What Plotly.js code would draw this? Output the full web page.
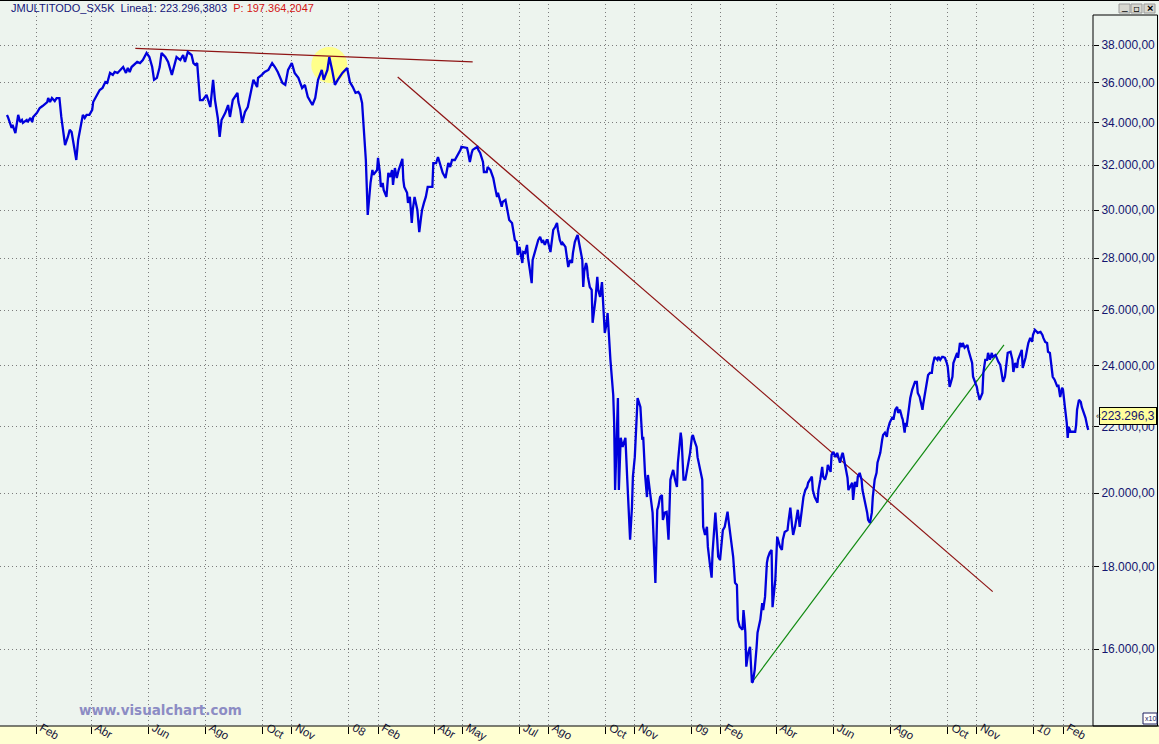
<!DOCTYPE html>
<html><head><meta charset="utf-8">
<script src="https://cdn.plot.ly/plotly-3.0.1.min.js"></script>
<style>html,body{margin:0;padding:0;background:#EDF4EE;overflow:hidden}#chart{width:1159px;height:744px}</style>
</head><body><div id="chart"></div>
<script>
const sessionDates = [
'2007-01-01','2007-01-02','2007-01-06','2007-01-07','2007-01-10','2007-01-12','2007-01-13','2007-01-15','2007-01-17','2007-01-18','2007-01-22','2007-01-23','2007-01-26','2007-01-28','2007-01-29',
'2007-02-02','2007-02-05','2007-02-08','2007-02-13','2007-02-14','2007-02-16','2007-02-18','2007-02-21','2007-02-23','2007-02-26','2007-02-28',
'2007-03-02','2007-03-04','2007-03-07','2007-03-09','2007-03-11','2007-03-14','2007-03-16','2007-03-18','2007-03-20','2007-03-23','2007-03-25','2007-03-27','2007-03-30',
'2007-04-02','2007-04-03','2007-04-07','2007-04-10','2007-04-13','2007-04-16','2007-04-18','2007-04-21','2007-04-24','2007-04-26','2007-04-29',
'2007-05-02','2007-05-05','2007-05-08','2007-05-10','2007-05-12','2007-05-14','2007-05-20','2007-05-23','2007-05-26','2007-05-30',
'2007-06-02','2007-06-05','2007-06-07','2007-06-10','2007-06-13','2007-06-15','2007-06-19','2007-06-22','2007-06-26','2007-06-29',
'2007-07-01','2007-07-05','2007-07-08','2007-07-10','2007-07-13','2007-07-17','2007-07-19','2007-07-21','2007-07-23','2007-07-26','2007-07-29',
'2007-08-02','2007-08-06','2007-08-09','2007-08-11','2007-08-14','2007-08-16','2007-08-18','2007-08-22','2007-08-25','2007-08-27','2007-08-30',
'2007-09-04','2007-09-05','2007-09-07','2007-09-09','2007-09-12','2007-09-15','2007-09-19','2007-09-21','2007-09-25','2007-09-26','2007-09-30',
'2007-10-03','2007-10-07','2007-10-11','2007-10-14','2007-10-17','2007-10-22','2007-10-25','2007-10-28',
'2007-11-01','2007-11-04','2007-11-08','2007-11-12','2007-11-15','2007-11-18','2007-11-23','2007-11-26','2007-11-29',
'2007-12-03','2007-12-05','2007-12-09','2007-12-11','2007-12-14','2007-12-17','2007-12-20','2007-12-25','2007-12-30',
'2008-01-02','2008-01-05','2008-01-08','2008-01-11','2008-01-13','2008-01-15','2008-01-16','2008-01-18','2008-01-19','2008-01-20','2008-01-21','2008-01-24','2008-01-26','2008-01-27','2008-01-29','2008-01-31',
'2008-02-01','2008-02-03','2008-02-04','2008-02-06','2008-02-07','2008-02-10','2008-02-12','2008-02-14','2008-02-16','2008-02-17','2008-02-19','2008-02-21','2008-02-23','2008-02-27','2008-02-28','2008-02-29',
'2008-03-03','2008-03-04','2008-03-06','2008-03-08','2008-03-09','2008-03-11','2008-03-14','2008-03-15','2008-03-16','2008-03-18','2008-03-19','2008-03-21','2008-03-23','2008-03-25','2008-03-30','2008-03-31',
'2008-04-03','2008-04-05','2008-04-07','2008-04-10','2008-04-13','2008-04-15','2008-04-16','2008-04-18','2008-04-20','2008-04-23','2008-04-25','2008-04-29','2008-04-30',
'2008-05-04','2008-05-06','2008-05-07','2008-05-09','2008-05-11','2008-05-12','2008-05-15','2008-05-17','2008-05-18','2008-05-20','2008-05-23','2008-05-24','2008-05-27','2008-05-28','2008-05-31',
'2008-06-03','2008-06-05','2008-06-07','2008-06-08','2008-06-10','2008-06-12','2008-06-13','2008-06-16','2008-06-18','2008-06-20','2008-06-23','2008-06-24','2008-06-26','2008-06-28','2008-06-29',
'2008-07-01','2008-07-04','2008-07-05','2008-07-07','2008-07-09','2008-07-10','2008-07-12','2008-07-14','2008-07-15','2008-07-17','2008-07-20','2008-07-21','2008-07-23','2008-07-25','2008-07-26','2008-07-28','2008-07-30','2008-07-31',
'2008-08-03','2008-08-05','2008-08-06','2008-08-08','2008-08-10','2008-08-11','2008-08-13','2008-08-15','2008-08-16','2008-08-19','2008-08-21','2008-08-22','2008-08-24','2008-08-26','2008-08-27','2008-08-29','2008-08-31',
'2008-09-01','2008-09-04','2008-09-06','2008-09-07','2008-09-08','2008-09-10','2008-09-11','2008-09-12','2008-09-14','2008-09-16','2008-09-17','2008-09-20','2008-09-22','2008-09-23','2008-09-25','2008-09-27','2008-09-28','2008-09-30',
'2008-10-02','2008-10-03','2008-10-06','2008-10-08','2008-10-09','2008-10-10','2008-10-11','2008-10-13','2008-10-14','2008-10-15','2008-10-17','2008-10-19','2008-10-22','2008-10-24','2008-10-25','2008-10-27','2008-10-29','2008-10-30',
'2008-11-01','2008-11-03','2008-11-04','2008-11-07','2008-11-09','2008-11-10','2008-11-12','2008-11-14','2008-11-15','2008-11-17','2008-11-19','2008-11-20','2008-11-23','2008-11-25','2008-11-26','2008-11-28','2008-11-30',
'2008-12-01','2008-12-03','2008-12-05','2008-12-07','2008-12-09','2008-12-11','2008-12-12','2008-12-14','2008-12-16','2008-12-17','2008-12-20','2008-12-21','2008-12-23','2008-12-25','2008-12-27','2008-12-28','2008-12-30',
'2009-01-01','2009-01-02','2009-01-04','2009-01-06','2009-01-07','2009-01-10','2009-01-12','2009-01-13','2009-01-15','2009-01-17','2009-01-18','2009-01-20','2009-01-22','2009-01-23','2009-01-26','2009-01-28','2009-01-29','2009-01-31',
'2009-02-02','2009-02-03','2009-02-05','2009-02-08','2009-02-09','2009-02-11','2009-02-13','2009-02-14','2009-02-16','2009-02-18','2009-02-19','2009-02-21','2009-02-24','2009-02-25','2009-02-26','2009-02-27','2009-02-28',
'2009-03-02','2009-03-04','2009-03-06','2009-03-07','2009-03-09','2009-03-11','2009-03-12','2009-03-15','2009-03-17','2009-03-18','2009-03-20','2009-03-22','2009-03-23','2009-03-25','2009-03-27','2009-03-28','2009-03-31',
'2009-04-02','2009-04-03','2009-04-05','2009-04-07','2009-04-08','2009-04-10','2009-04-13','2009-04-14','2009-04-16','2009-04-18','2009-04-19','2009-04-21','2009-04-23','2009-04-24','2009-04-26','2009-04-29','2009-04-30',
'2009-05-02','2009-05-04','2009-05-05','2009-05-07','2009-05-09','2009-05-10','2009-05-12','2009-05-15','2009-05-16','2009-05-18','2009-05-20','2009-05-21','2009-05-23','2009-05-25','2009-05-26','2009-05-29','2009-05-30',
'2009-06-01','2009-06-03','2009-06-05','2009-06-06','2009-06-08','2009-06-10','2009-06-11','2009-06-13','2009-06-16','2009-06-17','2009-06-19','2009-06-21','2009-06-22','2009-06-24','2009-06-26','2009-06-27','2009-06-29',
'2009-07-01','2009-07-02','2009-07-05','2009-07-07','2009-07-08','2009-07-10','2009-07-12','2009-07-13','2009-07-15','2009-07-17','2009-07-18','2009-07-21','2009-07-23','2009-07-24','2009-07-26','2009-07-28','2009-07-29','2009-07-31',
'2009-08-03','2009-08-04','2009-08-06','2009-08-08','2009-08-09','2009-08-11','2009-08-13','2009-08-14','2009-08-16','2009-08-17','2009-08-18','2009-08-22','2009-08-24','2009-08-25','2009-08-27','2009-08-29','2009-08-30',
'2009-09-01','2009-09-04','2009-09-05','2009-09-07','2009-09-09','2009-09-10','2009-09-12','2009-09-14','2009-09-15','2009-09-17','2009-09-20','2009-09-21','2009-09-23','2009-09-25','2009-09-26','2009-09-28','2009-09-30',
'2009-10-01','2009-10-03','2009-10-06','2009-10-07','2009-10-09','2009-10-11','2009-10-12','2009-10-14','2009-10-16','2009-10-17','2009-10-19','2009-10-22','2009-10-23','2009-10-25','2009-10-27','2009-10-28','2009-10-30',
'2009-11-01','2009-11-02','2009-11-04','2009-11-07','2009-11-08','2009-11-10','2009-11-12','2009-11-13','2009-11-15','2009-11-17','2009-11-18','2009-11-21','2009-11-23','2009-11-24','2009-11-26','2009-11-28','2009-11-29',
'2009-12-01','2009-12-03','2009-12-04','2009-12-07','2009-12-09','2009-12-10','2009-12-12','2009-12-14','2009-12-15','2009-12-17','2009-12-19','2009-12-20','2009-12-23','2009-12-25','2009-12-26','2009-12-28','2009-12-30','2009-12-31',
'2010-01-02','2010-01-04','2010-01-05','2010-01-08','2010-01-10','2010-01-11','2010-01-13','2010-01-15','2010-01-16','2010-01-18','2010-01-20','2010-01-21','2010-01-23','2010-01-26','2010-01-27','2010-01-29','2010-01-31',
'2010-02-01','2010-02-03','2010-02-05','2010-02-06','2010-02-07','2010-02-09','2010-02-12','2010-02-14','2010-02-15','2010-02-16','2010-02-18','2010-02-20','2010-02-21','2010-02-22','2010-02-25','2010-02-27','2010-02-28'
];
const closeValues = [
34380,34280,33750,33890,33500,34030,34380,34030,34130,33990,34130,34030,34230,34030,34280,
34480,34720,34820,35020,35220,35020,35220,35070,35220,35220,34280,
33650,32930,33310,33650,33550,32840,32230,33170,33650,34380,34230,34380,34380,
34630,35020,35380,35630,35730,36040,35990,36510,36410,36560,36510,
36670,36820,36510,36770,36560,36820,37090,37030,37190,37570,
37350,36820,36150,36250,36820,37570,37350,37090,36410,37030,
37350,37190,37460,37090,37620,37460,37030,36930,37030,35120,35120,
35380,34770,36150,35120,34230,33310,34130,34480,34870,34280,35120,
35480,35020,34630,33990,34530,34770,35730,36150,35780,36250,36410,
36560,36670,37030,36820,36560,35990,35890,36670,
37030,36510,36250,35730,35890,35280,34870,35220,36150,
36670,36150,36670,37350,36670,35890,36150,36510,36770,
36040,35790,35480,35530,35380,34970,34280,33310,32230,31010,29790,31190,31770,31550,31640,31770,
32330,31640,31010,31190,30880,30570,31640,31460,31770,31100,31860,31410,31770,32280,31320,31010,
30750,30310,30570,29450,30000,30570,30000,29580,29070,29710,30000,30310,30570,31010,31010,32090,
32090,32370,32090,31640,31410,31770,32090,31910,32230,32230,32370,32700,32840,
32790,32790,32600,32140,32560,32700,32790,32840,32700,32560,32140,31680,31680,31910,31770,
31410,30970,30570,30750,30440,30140,30350,30440,30000,29580,29450,29240,28740,28660,28130,
28460,27810,28250,28210,28540,28050,27540,27020,27930,28210,28540,28740,28870,28620,28740,28540,28740,28740,
28250,29030,29160,29280,29450,29160,28740,28540,28620,28460,27850,27650,27930,27810,28210,28660,28870,
28950,28330,27930,26870,27460,27810,27650,27260,26870,26760,25530,26380,27260,26760,26490,27060,26380,25160,
25530,25890,24210,23530,23020,22120,20090,21900,22920,20090,21650,21370,21650,20390,19810,18710,19610,20480,
21060,22220,22920,22630,21590,21680,20530,19890,20530,20090,19610,19450,17590,19530,19610,19890,19950,
19250,19450,19470,18710,20390,20590,20680,20390,20180,20890,21810,21590,20390,20390,20680,20910,21190,
21680,21740,21530,21370,21060,20680,20390,19060,18840,19060,18520,18100,17720,18370,19450,18710,18260,18180,
18710,18970,19060,19480,19250,18840,18520,18260,17590,17540,16690,16520,16450,16920,16690,16380,15600,
15910,16050,15250,15270,15530,16050,16380,16690,17090,16920,17240,18100,18230,18370,18440,16990,17670,
18790,18710,18520,18440,18710,18920,18970,19200,19590,19060,18840,19060,19450,19530,19060,19590,19890,
20090,20180,20300,20390,20480,20090,19890,19730,20090,20390,20770,20480,20390,20590,20830,20620,21130,
21220,21060,21190,21060,20890,21130,21190,20890,20450,20090,20180,20300,19810,20330,20180,20480,20590,
20390,20090,19750,19450,19250,19170,19450,19890,20390,20590,20890,21190,21590,21740,21810,21680,21900,22120,
22310,22220,22540,22630,22440,22540,22310,22220,21810,22120,21990,22920,23190,23290,23460,23460,23090,
22960,22540,22760,23120,23630,23690,23760,23760,24030,24310,24210,24310,24210,24310,24310,24280,24100,
23960,23290,23630,24100,24310,24450,24280,24800,24660,24800,24630,24730,24560,24310,24100,23630,23460,
23290,23120,22860,23090,23760,24210,24210,24450,24210,24450,24310,24380,24210,24140,24030,23630,23460,
23630,24100,24450,24490,24210,23790,24100,23930,24210,24380,24560,23930,24280,24630,24800,24980,24840,25090,
25270,25200,25160,25200,25090,24980,24840,24800,24490,24450,23930,23630,23530,23290,23360,22950,23260,
23190,22630,22120,21650,21990,21840,21840,21840,22050,22540,22860,22790,22630,22540,22280,21990,21900
];
const yTickValues = [16000,18000,20000,22000,24000,26000,28000,30000,32000,34000,36000,38000];
const xTickDates = ['2007-02-01','2007-04-01','2007-06-01','2007-08-01','2007-10-01','2007-11-01','2008-01-01','2008-02-01','2008-04-01','2008-05-01','2008-07-01','2008-08-01','2008-10-01','2008-11-01','2009-01-01','2009-02-01','2009-04-01','2009-06-01','2009-08-01','2009-10-01','2009-11-01','2010-01-01','2010-02-01'];
const xTickLabels = ['Feb','Abr','Jun','Ago','Oct','Nov','08','Feb','Abr','May','Jul','Ago','Oct','Nov','09','Feb','Abr','Jun','Ago','Oct','Nov','10','Feb'];
const resistanceDates = ['2007-05-18','2008-05-12'];
const resistanceValues = [37820,37090];
const downTrendDates = ['2008-02-22','2009-11-18'];
const downTrendValues = [36300,17370];
const upTrendDates = ['2009-03-08','2009-11-30'];
const upTrendValues = [15310,24730];
const highlightDates = ['2007-12-11'];
const highlightValues = [36930];
const lastValue = 22330;
const lastValueLabel = '223.296,3';
const headerName = 'JMULTITODO_SX5K  Linea1: 223.296,3803';
const headerP = 'P: 197.364,2047';

const PW = 1093, PH = 726;
const px = v => v / PW;
const py = v => (PH - v) / PH;
const FONT = 'Liberation Sans, Arial, sans-serif';
const grid = {showgrid:true, gridcolor:'#7c7c7c', gridwidth:1, griddash:'1px,3px', zeroline:false, showline:false, fixedrange:true};

const traces = [
  {x:highlightDates, y:highlightValues, type:'scatter', mode:'markers', marker:{size:36, color:'#FFFF8A', line:{width:0}}, hoverinfo:'skip'},
  {x:resistanceDates, y:resistanceValues, type:'scatter', mode:'lines', line:{color:'#8E1414', width:1.2}, hoverinfo:'skip'},
  {x:downTrendDates, y:downTrendValues, type:'scatter', mode:'lines', line:{color:'#8E1414', width:1.2}, hoverinfo:'skip'},
  {x:upTrendDates, y:upTrendValues, type:'scatter', mode:'lines', line:{color:'#108A10', width:1.2}, hoverinfo:'skip'},
  {x:sessionDates, y:closeValues, type:'scatter', mode:'lines', line:{color:'#0000DC', width:2.3}, hoverinfo:'x+y'}
];

const shapes = [
  {type:'rect', xref:'paper', yref:'paper', x0:0, x1:px(1159), y0:py(744), y1:py(726), fillcolor:'#FFFFD2', line:{width:0}, layer:'below'},
  {type:'line', xref:'paper', yref:'paper', x0:0, x1:px(1159), y0:py(726), y1:py(726), line:{color:'#000', width:1}},
  {type:'line', xref:'paper', yref:'paper', x0:0, x1:px(1159), y0:py(0.5), y1:py(0.5), line:{color:'#000', width:1}},
  {type:'rect', xref:'paper', yref:'paper', x0:px(1093), x1:px(1157.5), y0:py(726), y1:py(15), line:{color:'#000', width:1}},
  {type:'rect', xref:'paper', yref:'paper', x0:px(1119), x1:px(1130), y0:py(13), y1:py(4), fillcolor:'#D8D8D0', line:{color:'#9a9a9a', width:1}},
  {type:'rect', xref:'paper', yref:'paper', x0:px(1131), x1:px(1142), y0:py(13), y1:py(4), fillcolor:'#D8D8D0', line:{color:'#9a9a9a', width:1}},
  {type:'rect', xref:'paper', yref:'paper', x0:px(1144), x1:px(1155), y0:py(13), y1:py(4), fillcolor:'#D8D8D0', line:{color:'#9a9a9a', width:1}},
  {type:'rect', xref:'paper', yref:'paper', x0:px(1143), x1:px(1157), y0:py(724), y1:py(713), fillcolor:'#FFFFFF', line:{color:'#202060', width:1}}
];

const annotations = [
  {xref:'paper', yref:'paper', x:px(9), y:py(8), xanchor:'left', yanchor:'middle', showarrow:false,
   text:'<span style="color:#14147A">' + headerName + '</span>  <span style="color:#D41414">' + headerP + '</span>',
   font:{family:FONT, size:11}},
  {xref:'paper', yref:'paper', x:px(160), y:py(710), xanchor:'center', yanchor:'middle', showarrow:false,
   text:'<b>www.visualchart.com</b>', font:{family:'DejaVu Sans, Verdana, sans-serif', size:13.5, color:'#8C8CC4'}},
  {xref:'paper', yref:'y', x:px(1099), y:Math.log10(lastValue), xanchor:'left', yanchor:'middle', showarrow:false,
   text:lastValueLabel, bgcolor:'#FFFF9C', bordercolor:'#000', borderwidth:1, borderpad:1,
   font:{family:FONT, size:12, color:'#14146E'}},
  {xref:'paper', yref:'y', x:px(1094), y:Math.log10(lastValue), xanchor:'left', yanchor:'middle', showarrow:false,
   text:'«', font:{family:FONT, size:9, color:'#202020'}},
  {xref:'paper', yref:'paper', x:px(1124.5), y:py(8), xanchor:'center', yanchor:'middle', showarrow:false, text:'_', font:{family:FONT, size:10, color:'#000'}, yshift:2},
  {xref:'paper', yref:'paper', x:px(1136.5), y:py(8.5), xanchor:'center', yanchor:'middle', showarrow:false, text:'▫', font:{family:'DejaVu Sans', size:10, color:'#000'}},
  {xref:'paper', yref:'paper', x:px(1149.5), y:py(8.5), xanchor:'center', yanchor:'middle', showarrow:false, text:'<b>×</b>', font:{family:FONT, size:11, color:'#000'}},
  {xref:'paper', yref:'paper', x:px(1150), y:py(718.5), xanchor:'center', yanchor:'middle', showarrow:false, text:'x10', font:{family:FONT, size:7, color:'#202060'}}
];

const layout = {
  width:1159, height:744,
  margin:{l:0, r:66, t:0, b:18, pad:0},
  paper_bgcolor:'#EDF4EE', plot_bgcolor:'#EDF4EE',
  separators:',.',
  showlegend:false,
  xaxis:Object.assign({}, grid, {
    type:'date', range:['2006-12-24 14:00','2010-03-05 00:00'],
    tickmode:'array', tickvals:xTickDates, ticktext:xTickLabels,
    ticks:'outside', ticklen:7, tickwidth:1, tickcolor:'#000',
    ticklabelposition:'outside right', ticklabelstandoff:-10, ticklabelshift:5,
    tickfont:{family:FONT, size:11.5, color:'#14143C'}
  }),
  yaxis:Object.assign({}, grid, {
    type:'log', range:[4.15625, 4.60777], side:'right',
    tickmode:'array', tickvals:yTickValues, tickformat:',.2f',
    ticks:'outside', ticklen:5, tickwidth:1, tickcolor:'#000',
    tickfont:{family:FONT, size:12, color:'#14146E'}
  }),
  shapes:shapes, annotations:annotations
};

Plotly.newPlot('chart', traces, layout, {displayModeBar:false, staticPlot:true});
</script></body></html>
